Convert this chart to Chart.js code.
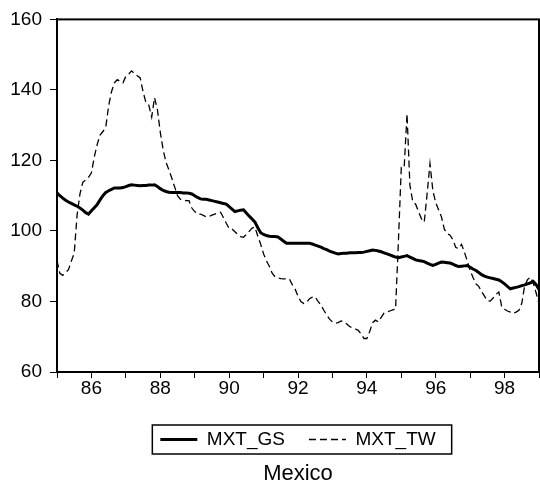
<!DOCTYPE html>
<html>
<head>
<meta charset="utf-8">
<script src="https://cdn.jsdelivr.net/npm/chart.js@4.4.1/dist/chart.umd.min.js"></script>
<style>
  body { margin: 0; background: #fff; }
  #wrap { width: 540px; height: 485px; }
</style>
</head>
<body>
<div id="wrap"><canvas id="myChart"></canvas></div>
<script>
// monthly observations, 1985:01 .. 1999:01
var startYear = 1985;
var endYear = 1999;
var seriesNames = ['MXT_GS', 'MXT_TW'];
var chartTitle = 'Mexico';
var yTicks = [60, 80, 100, 120, 140, 160];

var gsValues = [
    110.8, 110.0, 109.3, 108.7, 108.2, 107.8, 107.4, 107.0, 106.5, 105.9, 105.2, 104.8, // 85
    105.7, 106.6, 107.5, 108.8, 110.0, 110.9, 111.4, 111.8, 112.2, 112.2, 112.2, 112.3, // 86
    112.6, 112.9, 113.1, 113.0, 112.9, 112.8, 112.9, 112.9, 113.0, 113.0, 113.1, 112.6, // 87
    112.0, 111.5, 111.2, 111.0, 110.9, 110.9, 110.9, 110.9, 110.8, 110.8, 110.7, 110.5, // 88
    110.0, 109.5, 109.1, 109.0, 109.0, 108.8, 108.6, 108.4, 108.2, 108.0, 107.8, 107.6, // 89
    106.9, 106.2, 105.5, 105.7, 105.9, 106.0, 105.1, 104.2, 103.4, 102.5, 100.9, 99.5,  // 90
    99.0, 98.7, 98.5, 98.4, 98.4, 98.3, 97.7, 97.1, 96.5, 96.5, 96.5, 96.5,             // 91
    96.5, 96.5, 96.5, 96.5, 96.5, 96.3, 96.0, 95.7, 95.4, 95.0, 94.7, 94.3,             // 92
    94.0, 93.7, 93.5, 93.6, 93.7, 93.7, 93.8, 93.8, 93.8, 93.9, 93.9, 94.0,             // 93
    94.2, 94.4, 94.6, 94.5, 94.3, 94.1, 93.8, 93.5, 93.2, 92.9, 92.6, 92.4,             // 94
    92.6, 92.8, 93.0, 92.6, 92.2, 91.8, 91.6, 91.5, 91.3, 90.9, 90.5, 90.2,             // 95
    90.5, 90.9, 91.2, 91.1, 91.0, 90.9, 90.6, 90.2, 89.9, 90.0, 90.1, 90.2,             // 96
    89.7, 89.2, 88.8, 88.2, 87.6, 87.2, 86.9, 86.7, 86.5, 86.3, 86.1, 85.6,             // 97
    85.0, 84.3, 83.6, 83.8, 84.0, 84.2, 84.5, 84.7, 85.0, 85.3, 85.7, 84.8,             // 98
    83.4                                                                                 // 99
];

var twValues = [
    91.6, 88.0, 87.4, 88.2, 89.0, 91.5, 93.7, 104.5, 110.5, 113.8, 114.5, 115.2,        // 85
    116.5, 121.0, 124.5, 127.2, 128.2, 129.5, 135.5, 139.5, 142.0, 142.9, 142.4, 142.0, // 86
    143.9, 144.5, 145.4, 144.6, 144.0, 143.4, 139.5, 136.4, 135.7, 132.3, 137.8, 134.4, // 87
    128.0, 123.0, 119.5, 117.3, 115.0, 112.5, 110.0, 109.0, 108.7, 108.6, 108.6, 106.5, // 88
    105.5, 104.8, 104.8, 104.4, 104.0, 104.1, 104.5, 104.8, 105.1, 105.3, 103.8, 102.2, // 89
    100.7, 100.6, 99.8, 99.0, 98.4, 98.2, 99.0, 99.9, 100.8, 101.1, 98.5, 96.2,         // 90
    93.5, 91.5, 90.0, 88.0, 87.0, 86.7, 86.5, 86.4, 86.4, 86.4, 84.8, 83.5,             // 91
    81.5, 80.0, 79.4, 79.7, 80.8, 81.2, 81.3, 80.0, 79.0, 77.5, 76.2, 75.0,             // 92
    74.2, 73.8, 74.0, 74.5, 74.2, 73.6, 72.9, 72.5, 72.2, 71.8, 70.8, 69.5,             // 93
    69.5, 71.5, 74.0, 74.7, 74.2, 75.5, 76.7, 77.0, 77.3, 77.6, 77.8, 97.0,             // 94
    118.0, 118.0, 133.2, 113.0, 108.3, 107.6, 105.5, 103.5, 102.5, 110.5, 119.1, 111.5, // 95
    108.0, 106.0, 104.0, 100.5, 99.2, 98.8, 97.5, 95.3, 95.0, 96.2, 94.0, 91.5,         // 96
    88.8, 86.8, 85.0, 84.3, 82.8, 81.5, 80.2, 80.1, 81.0, 82.0, 82.7, 78.5,             // 97
    77.8, 77.3, 77.0, 76.6, 77.0, 77.5, 79.5, 84.5, 86.2, 86.9, 85.2, 82.4,             // 98
    79.4                                                                                 // 99
];

// x position of each month as a decimal year
var months = gsValues.map(function (v, i) { return startYear + i / 12; });

Chart.defaults.font.family = 'Arial, "Liberation Sans", sans-serif';
Chart.defaults.color = '#000';

// box round the plot area and round the legend
var framePlugin = {
    id: 'frame',
    afterDraw: function (chart) {
        var a = chart.chartArea;
        var ctx = chart.ctx;
        ctx.save();
        ctx.strokeStyle = '#000';
        ctx.lineWidth = 2;
        ctx.strokeRect(a.left, a.top, a.right - a.left, a.bottom - a.top);

        var hb = chart.legend.legendHitBoxes;
        if (hb && hb.length) {
            var last = hb[hb.length - 1];
            var l = hb[0].left - 8;
            var r = last.left + last.width + 16;
            var t = hb[0].top + hb[0].height / 2 - 14.5;
            ctx.lineWidth = 1.5;
            ctx.strokeRect(l, t, r - l, 29);
        }
        ctx.restore();
    }
};

function myLoadFunction() {
    const ctx = document.getElementById('myChart').getContext('2d');
    var myChartConfig = {
        type: 'line',
        data: {
            labels: months,
            datasets: [
            {
                label: seriesNames[0],
                data: gsValues,
                borderColor: '#000',
                borderWidth: 3,
                pointRadius: 0,
                tension: 0
            },
            {
                label: seriesNames[1],
                data: twValues,
                borderColor: '#000',
                borderWidth: 1.3,
                borderDash: [7, 4],
                pointRadius: 0,
                tension: 0
            }
        ]
        },
        plugins: [framePlugin],
        options: {
            responsive: true,
            maintainAspectRatio: false,
            animation: false,
            layout: { padding: { top: 18, right: 1, left: 0, bottom: 0 } },
            scales: {
                x: {
                    type: 'linear',
                    min: startYear,
                    max: endYear,
                    border: { color: '#000', width: 2 },
                    grid: { drawOnChartArea: false, color: '#000', tickLength: 6 },
                    ticks: {
                        stepSize: 1,
                        autoSkip: false,
                        maxRotation: 0,
                        padding: -1,
                        font: { size: 19 },
                        callback: function (v) {
                            return v % 2 === 0 ? String(v).slice(2) : '';
                        }
                    },
                    afterFit: function (s) { s.height = 34; }
                },
                y: {
                    min: yTicks[0],
                    max: yTicks[yTicks.length - 1],
                    border: { color: '#000', width: 2 },
                    grid: { drawOnChartArea: false, color: '#000', tickLength: 7 },
                    ticks: { stepSize: 20, padding: 8, font: { size: 19 } },
                    afterFit: function (s) { s.width = 57; }
                }
            },
            plugins: {
                legend: {
                    position: 'bottom',
                    fullSize: false,
                    labels: {
                        usePointStyle: true,
                        pointStyle: 'line',
                        pointStyleWidth: 37,
                        padding: 24,
                        color: '#000',
                        font: { size: 19 },
                        // take dash and width from the dataset line itself
                        generateLabels: function (chart) {
                            var items = Chart.defaults.plugins.legend.labels.generateLabels(chart);
                            items.forEach(function (it) {
                                var ds = chart.data.datasets[it.datasetIndex];
                                it.lineDash = ds.borderDash || [];
                                it.lineWidth = ds.borderWidth;
                                it.pointStyle = 'line';
                            });
                            return items;
                        }
                    }
                },
                title: {
                    display: true,
                    text: chartTitle,
                    position: 'bottom',
                    fullSize: false,
                    color: '#000',
                    font: { size: 22, weight: 'normal', lineHeight: 1 },
                    padding: { top: 4, bottom: 0 }
                },
                tooltip: { enabled: false }
            }
        }
    };
    const myChart = new Chart(ctx, myChartConfig);
}

document.addEventListener('DOMContentLoaded', myLoadFunction);
</script>
</body>
</html>
